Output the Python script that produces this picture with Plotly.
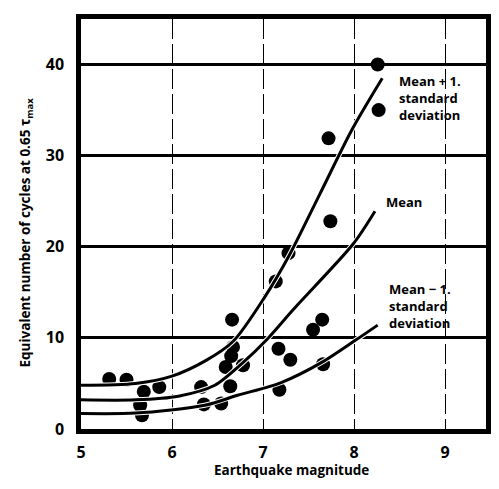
import plotly.graph_objects as go

# ---- data ----
pts_x = [5.31, 5.50, 5.69, 5.65, 5.67, 5.86,
         6.32, 6.35, 6.54, 6.64, 6.66, 6.67, 6.65, 6.59, 6.78,
         7.14, 7.28, 7.17, 7.30, 7.18, 7.65, 7.55, 7.66,
         7.72, 7.74, 8.26, 8.27]
pts_y = [5.5, 5.4, 4.1, 2.6, 1.5, 4.6,
         4.6, 2.7, 2.8, 4.7, 12.0, 9.0, 8.0, 6.8, 7.0,
         16.2, 19.3, 8.8, 7.6, 4.3, 12.0, 10.9, 7.1,
         31.9, 22.8, 40.0, 35.0]

upper_x = [5.0, 5.6, 6.0, 6.37, 6.67, 7.02, 7.29, 7.62, 7.98, 8.31]
upper_y = [4.8, 5.0, 5.8, 7.5, 9.6, 14.5, 19.1, 25.7, 32.9, 38.5]

mean_x = [5.0, 5.6, 6.07, 6.47, 6.77, 7.04, 7.34, 7.99, 8.23]
mean_y = [3.2, 3.2, 3.6, 4.8, 7.2, 9.8, 13.2, 20.3, 23.9]

lower_x = [5.0, 5.6, 6.36, 6.72, 7.20, 7.66, 8.01, 8.26]
lower_y = [1.7, 1.75, 2.6, 3.7, 5.1, 7.4, 9.7, 11.4]

x_ticks = [5, 6, 7, 8, 9]
y_ticks = [0, 10, 20, 30, 40]

labels = ["Mean + 1.<br>standard<br>deviation", "Mean", "Mean − 1.<br>standard<br>deviation"]
label_x = [8.47, 8.33, 8.36]
label_y = [36.3, 24.9, 13.5]

x_title = "Earthquake magnitude"
y_title = "Equivalent number of cycles at 0.65 τ<sub>max</sub>"

FONT = "Open Sans"

fig = go.Figure()
fig.add_trace(go.Scatter(x=pts_x, y=pts_y, mode="markers",
                         marker=dict(size=14, color="black"), hoverinfo="skip"))
for cx, cy in [(upper_x, upper_y), (mean_x, mean_y), (lower_x, lower_y)]:
    fig.add_trace(go.Scatter(x=cx, y=cy, mode="lines",
                             line=dict(color="white", width=5, shape="spline", smoothing=0.8),
                             hoverinfo="skip"))
for cx, cy in [(upper_x, upper_y), (mean_x, mean_y), (lower_x, lower_y)]:
    fig.add_trace(go.Scatter(x=cx, y=cy, mode="lines",
                             line=dict(color="black", width=3, shape="spline", smoothing=0.8),
                             hoverinfo="skip"))

for t, lx, ly in zip(labels, label_x, label_y):
    fig.add_annotation(x=lx, y=ly, text=t, showarrow=False, xanchor="left", yanchor="middle",
                       align="left", font=dict(family=FONT, size=13, color="black", weight="bold"))

fig.add_annotation(xref="paper", yref="paper", x=0.52, y=-0.1, text=x_title, showarrow=False,
                   xanchor="center", yanchor="middle",
                   font=dict(family=FONT, size=13.5, color="black", weight="bold"))
fig.add_annotation(xref="paper", yref="paper", x=-0.135, y=0.48, text=y_title, showarrow=False,
                   textangle=-90, xanchor="center", yanchor="middle",
                   font=dict(family=FONT, size=13.5, color="black", weight="bold"))

fig.update_xaxes(range=[5, 9.45], tickvals=x_ticks, ticktext=[str(v) for v in x_ticks],
                 showline=True, linewidth=4.5, linecolor="black", mirror=True,
                 showgrid=True, gridcolor="black", gridwidth=1.3, griddash="20px,5px",
                 zeroline=False, ticks="", ticklabelstandoff=5,
                 tickfont=dict(family=FONT, size=16, color="black", weight="bold"))
fig.update_yaxes(range=[0, 45], tickvals=y_ticks, ticktext=[str(v) for v in y_ticks],
                 showline=True, linewidth=4.5, linecolor="black", mirror=True,
                 showgrid=True, gridcolor="black", gridwidth=3,
                 zeroline=False, ticks="", ticklabelstandoff=9,
                 tickfont=dict(family=FONT, size=16, color="black", weight="bold"))

fig.update_layout(width=499, height=489, margin=dict(l=81, r=8, t=19, b=60),
                  plot_bgcolor="white", paper_bgcolor="white", showlegend=False)

fig.write_html("out.html")
